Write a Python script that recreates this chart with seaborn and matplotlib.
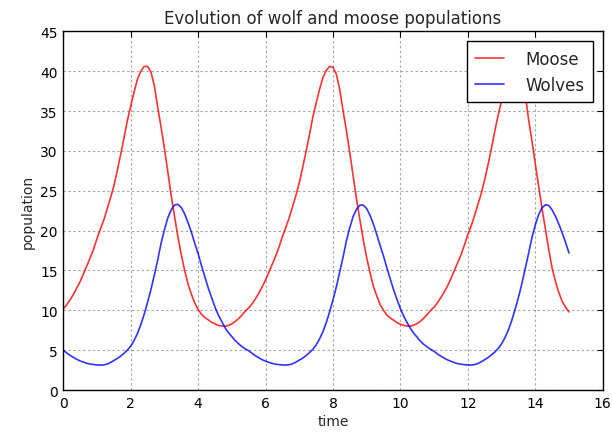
import matplotlib
matplotlib.use("Agg")
import matplotlib.pyplot as plt
import seaborn as sns
import pandas as pd

time = [0.0, 0.1, 0.2, 0.3, 0.4, 0.5, 0.6, 0.7, 0.8, 0.9,
        1.0, 1.1, 1.2, 1.3, 1.4, 1.5, 1.6, 1.7, 1.8, 1.9,
        2.0, 2.1, 2.2, 2.3, 2.4, 2.5, 2.6, 2.7, 2.8, 2.9,
        3.0, 3.1, 3.2, 3.3, 3.4, 3.5, 3.6, 3.7, 3.8, 3.9,
        4.0, 4.1, 4.2, 4.3, 4.4, 4.5, 4.6, 4.7, 4.8, 4.9,
        5.0, 5.1, 5.2, 5.3, 5.4, 5.5, 5.6, 5.7, 5.8, 5.9,
        6.0, 6.1, 6.2, 6.3, 6.4, 6.5, 6.6, 6.7, 6.8, 6.9,
        7.0, 7.1, 7.2, 7.3, 7.4, 7.5, 7.6, 7.7, 7.8, 7.9,
        8.0, 8.1, 8.2, 8.3, 8.4, 8.5, 8.6, 8.7, 8.8, 8.9,
        9.0, 9.1, 9.2, 9.3, 9.4, 9.5, 9.6, 9.7, 9.8, 9.9,
        10.0, 10.1, 10.2, 10.3, 10.4, 10.5, 10.6, 10.7, 10.8, 10.9,
        11.0, 11.1, 11.2, 11.3, 11.4, 11.5, 11.6, 11.7, 11.8, 11.9,
        12.0, 12.1, 12.2, 12.3, 12.4, 12.5, 12.6, 12.7, 12.8, 12.9,
        13.0, 13.1, 13.2, 13.3, 13.4, 13.5, 13.6, 13.7, 13.8, 13.9,
        14.0, 14.1, 14.2, 14.3, 14.4, 14.5, 14.6, 14.7, 14.8, 14.9,
        15.0]

moose = [10.2, 10.7, 11.3, 12.0, 12.8, 13.6, 14.6, 15.6, 16.6, 17.7,
         19.0, 20.2, 21.3, 22.7, 24.1, 25.6, 27.5, 29.5, 31.6, 33.8,
         35.6, 37.4, 39.0, 40.0, 40.6, 40.6, 39.9, 38.2, 35.5, 33.0,
         30.3, 27.4, 24.4, 21.8, 19.2, 17.0, 15.0, 13.3, 12.0, 10.9,
         10.1, 9.5, 9.1, 8.8, 8.5, 8.3, 8.1, 8.05, 8.0, 8.1,
         8.3, 8.6, 8.95, 9.4, 9.9, 10.3, 10.8, 11.45, 12.15, 12.95,
         13.8, 14.8, 15.8, 16.8, 17.95, 19.25, 20.4, 21.6, 23.0, 24.4,
         26.0, 27.9, 29.9, 32.0, 34.2, 36.0, 37.7, 39.2, 40.1, 40.6,
         40.5, 39.6, 37.7, 35.0, 32.5, 29.7, 26.8, 23.9, 21.3, 18.8,
         16.6, 14.7, 13.0, 11.8, 10.7, 10.0, 9.4, 9.05, 8.75, 8.45,
         8.25, 8.1, 8.04, 8.02, 8.15, 8.35, 8.65, 9.05, 9.5, 10.0,
         10.4, 10.95, 11.6, 12.3, 13.1, 14.0, 15.0, 16.0, 17.0, 18.2,
         19.5, 20.6, 21.9, 23.3, 24.7, 26.4, 28.3, 30.3, 32.5, 34.5,
         36.3, 38.0, 39.4, 40.2, 40.65, 40.4, 39.3, 37.2, 34.0, 31.3,
         28.4, 25.6, 22.8, 20.2, 17.6, 15.3, 13.6, 12.2, 11.1, 10.4,
         9.8]

wolves = [5.0, 4.65, 4.35, 4.1, 3.85, 3.65, 3.5, 3.35, 3.25, 3.2,
          3.15, 3.12, 3.15, 3.25, 3.45, 3.7, 3.95, 4.25, 4.6, 5.0,
          5.5, 6.2, 7.1, 8.2, 9.5, 11.0, 12.6, 14.4, 16.3, 18.4,
          20.1, 21.6, 22.6, 23.2, 23.3, 22.9, 22.1, 21.0, 19.8, 18.4,
          17.1, 15.6, 14.2, 12.8, 11.6, 10.4, 9.4, 8.6, 7.8, 7.2,
          6.7, 6.2, 5.8, 5.45, 5.15, 4.93, 4.6, 4.3, 4.05, 3.8,
          3.62, 3.47, 3.33, 3.24, 3.19, 3.14, 3.13, 3.17, 3.29, 3.5,
          3.75, 4.0, 4.32, 4.68, 5.1, 5.65, 6.4, 7.3, 8.45, 9.8,
          11.3, 12.95, 14.8, 16.7, 18.75, 20.4, 21.8, 22.7, 23.2, 23.2,
          22.75, 21.9, 20.8, 19.5, 18.1, 16.8, 15.3, 13.9, 12.55, 11.35,
          10.2, 9.25, 8.45, 7.7, 7.1, 6.6, 6.1, 5.7, 5.4, 5.1,
          4.85, 4.5, 4.25, 4.0, 3.77, 3.6, 3.44, 3.31, 3.23, 3.18,
          3.14, 3.13, 3.19, 3.33, 3.55, 3.8, 4.07, 4.4, 4.76, 5.2,
          5.8, 6.55, 7.5, 8.7, 10.1, 11.6, 13.3, 15.2, 17.1, 19.1,
          20.7, 22.0, 22.85, 23.25, 23.15, 22.6, 21.8, 20.8, 19.7, 18.5,
          17.2]

series_names = ["Moose", "Wolves"]
series_colors = ["red", "blue"]
x_ticks = [0, 2, 4, 6, 8, 10, 12, 14, 16]
y_ticks = [0, 5, 10, 15, 20, 25, 30, 35, 40, 45]

df = pd.concat([
    pd.DataFrame({"time": time, "population": moose, "series": series_names[0]}),
    pd.DataFrame({"time": time, "population": wolves, "series": series_names[1]}),
])

sns.set_theme(style="white")
plt.rcParams["font.family"] = ["DejaVu Sans"]
plt.rcParams["xtick.direction"] = "in"
plt.rcParams["ytick.direction"] = "in"

fig = plt.figure(figsize=(6.12, 4.39), dpi=100, facecolor="white")
ax = fig.add_axes([0.1034, 0.1093, 0.8814, 0.817])
ax.set_facecolor("white")

sns.lineplot(data=df, x="time", y="population", hue="series",
             palette=dict(zip(series_names, series_colors)), linewidth=1.2,
             alpha=0.8, ax=ax, legend=True)

ax.set_xlim(0, 16)
ax.set_ylim(0, 45)
ax.set_xticks(x_ticks)
ax.set_yticks(y_ticks)
ax.tick_params(axis="both", which="both", direction="in", length=4, width=0.8,
               top=True, right=True, labelsize=10, colors="black", pad=4)
for s in ax.spines.values():
    s.set_visible(True)
    s.set_color("black")
    s.set_linewidth(1.0)
ax.grid(True, color="#a8a8a8", linestyle=(0, (2.2, 2.2)), linewidth=0.8)
ax.set_axisbelow(True)

ax.set_title("Evolution of wolf and moose populations", fontsize=12, pad=6)
ax.set_xlabel("time", fontsize=10, labelpad=3)
ax.set_ylabel("population", fontsize=10, labelpad=4)

handles, labels = ax.get_legend_handles_labels()
leg = ax.legend(handles, labels, loc="upper right", fontsize=12, frameon=True,
                fancybox=False, edgecolor="black", framealpha=1, handlelength=1.7,
                handletextpad=1.3, borderaxespad=0.6, borderpad=0.5, labelspacing=0.5)
leg.get_frame().set_linewidth(1.0)
for line in leg.get_lines():
    line.set_linewidth(1.2)

fig.savefig("out.png", dpi=100, facecolor="white")
